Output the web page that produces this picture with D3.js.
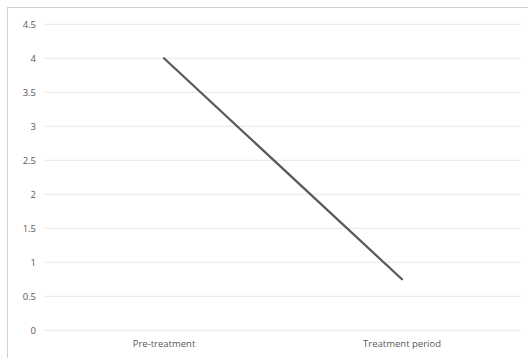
<!DOCTYPE html>
<html><head><meta charset="utf-8">
<script src="https://cdn.jsdelivr.net/npm/d3@7"></script>
<style>body{margin:0;background:#fff}svg{display:block}</style>
</head><body>
<svg id="c" width="528" height="358"></svg>
<script>
const categories = ["Pre-treatment", "Treatment period"];
const values = [4, 0.75];
const yTicks = [0, 0.5, 1, 1.5, 2, 2.5, 3, 3.5, 4, 4.5];

const svg = d3.select("#c");
const m = {left: 45, right: 521, top: 24.3, bottom: 330.3};
svg.append("rect").attr("x", 7.5).attr("y", 7.5).attr("width", 540).attr("height", 400)
  .attr("fill", "#fff").attr("stroke", "#d0d0d0").attr("stroke-width", 1);

const x = d3.scaleBand().domain(categories).range([m.left, m.right]);
const y = d3.scaleLinear().domain([0, 4.5]).range([m.bottom, m.top]);

const g = svg.append("g");
g.selectAll("line.grid").data(yTicks).join("line")
  .attr("x1", m.left).attr("x2", m.right)
  .attr("y1", d => y(d)).attr("y2", d => y(d))
  .attr("stroke", "#e6e6e6").attr("stroke-width", 1);

const font = "'Open Sans', 'Noto Sans', sans-serif";
const yAxis = d3.axisLeft(y).tickValues(yTicks).tickSize(0).tickPadding(9).tickFormat(d => String(d));
const ya = svg.append("g").attr("transform", `translate(${m.left},0)`).call(yAxis);
ya.select(".domain").remove();
ya.selectAll("text").attr("fill", "#595959").style("font-family", font).style("font-size", "9.5px");

const xAxis = d3.axisBottom(x).tickSize(0).tickPadding(10);
const xa = svg.append("g").attr("transform", `translate(0,${m.bottom})`).call(xAxis);
xa.select(".domain").remove();
xa.selectAll("text").attr("fill", "#595959").style("font-family", font).style("font-size", "9.5px");

const line = d3.line().x((d, i) => x(categories[i]) + x.bandwidth() / 2).y(d => y(d));
svg.append("path").datum(values).attr("d", line)
  .attr("fill", "none").attr("stroke", "#595959").attr("stroke-width", 2.25).attr("stroke-linecap", "round");
</script>
</body></html>
